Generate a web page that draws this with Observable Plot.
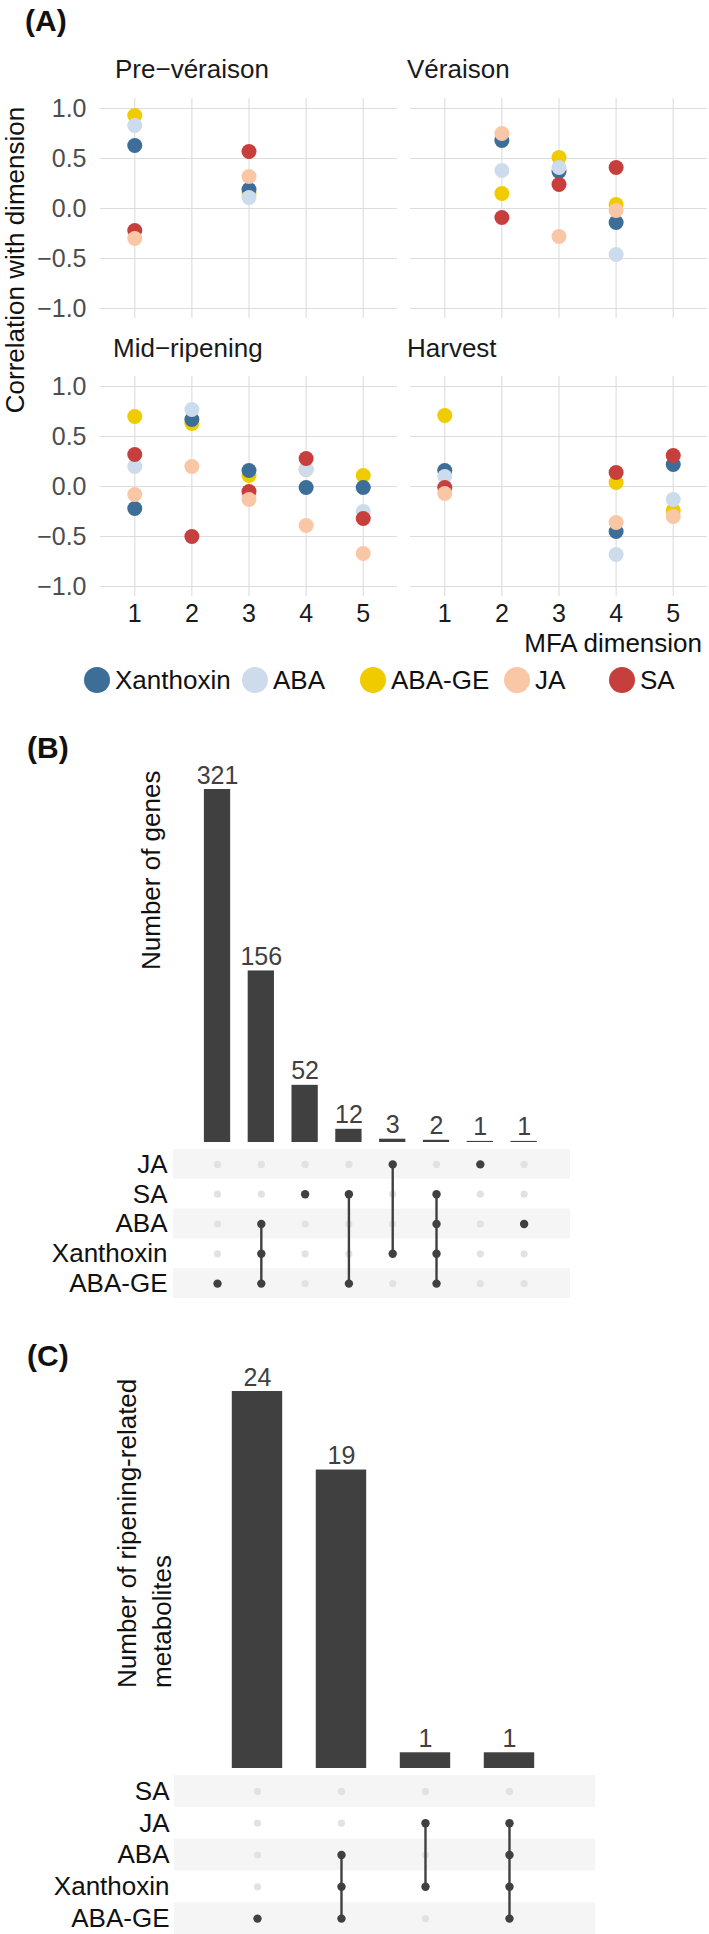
<!DOCTYPE html>
<html>
<head>
<meta charset="utf-8">
<script src="https://cdn.jsdelivr.net/npm/d3@7"></script>
<script src="https://cdn.jsdelivr.net/npm/@observablehq/plot@0.6"></script>
<style>
html, body { margin: 0; padding: 0; background: #fff; }
#page { position: relative; width: 709px; height: 1934px; overflow: hidden; background: #fff;
  font-family: 'Liberation Sans', Arial, Helvetica, sans-serif; }
.abs { position: absolute; }
.abs svg { display: block; }
</style>
</head>
<body>
<div id="page"></div>
<script>
// ---------- Panel A data ----------
const hormones = ["Xanthoxin", "ABA", "ABA-GE", "JA", "SA"];
const hormoneColors = ["#3c6e97", "#ccdcec", "#f0cb00", "#f9c6a6", "#c73f3d"];
const drawOrder = ["ABA-GE", "Xanthoxin", "ABA", "SA", "JA"];
const stageNames = ["Pre\u2212véraison", "Véraison", "Mid\u2212ripening", "Harvest"];
const dims = [1, 2, 3, 4, 5];
const corrTicks = [-1, -0.5, 0, 0.5, 1];
// rows: [MFA dimension, Xanthoxin, ABA, ABA-GE, JA, SA]
const preVeraison = [
  [1, 0.63, 0.83, 0.93, -0.30, -0.22],
  [3, 0.19, 0.11, 0.15, 0.32, 0.57]
];
const veraison = [
  [2, 0.68, 0.38, 0.15, 0.75, -0.09],
  [3, 0.37, 0.41, 0.51, -0.28, 0.24],
  [4, -0.14, -0.46, 0.04, -0.02, 0.41]
];
const midRipening = [
  [1, -0.22, 0.20, 0.70, -0.08, 0.32],
  [2, 0.67, 0.77, 0.63, 0.20, -0.50],
  [3, 0.16, -0.09, 0.11, -0.13, -0.05],
  [4, -0.01, 0.17, 0.17, -0.39, 0.28],
  [5, -0.01, -0.25, 0.11, -0.67, -0.32]
];
const harvest = [
  [1, 0.16, 0.10, 0.71, -0.07, -0.01],
  [4, -0.45, -0.68, 0.04, -0.36, 0.14],
  [5, 0.22, -0.13, -0.24, -0.30, 0.31]
];

// ---------- Panel B data ----------
const geneSets = ["JA", "SA", "ABA", "Xanthoxin", "ABA-GE"];
const geneCounts = [321, 156, 52, 12, 3, 2, 1, 1];
const geneMembers = [
  ["ABA-GE"], ["ABA", "Xanthoxin", "ABA-GE"], ["SA"], ["SA", "ABA-GE"],
  ["JA", "Xanthoxin"], ["SA", "ABA", "Xanthoxin", "ABA-GE"], ["JA"], ["ABA"]
];

// ---------- Panel C data ----------
const metSets = ["SA", "JA", "ABA", "Xanthoxin", "ABA-GE"];
const metCounts = [24, 19, 1, 1];
const metMembers = [
  ["ABA-GE"], ["ABA", "Xanthoxin", "ABA-GE"], ["JA", "Xanthoxin"], ["JA", "ABA", "Xanthoxin", "ABA-GE"]
];

// ---------- drawing ----------
const FONT = "'Liberation Sans', Arial, Helvetica, sans-serif";
const page = d3.select("#page");
const baseStyle = {fontFamily: FONT, background: "transparent", overflow: "visible"};

function mount(chart, left, top) {
  page.append("div").attr("class", "abs")
    .style("left", left + "px").style("top", top + "px")
    .node().appendChild(chart);
}

function corrPanel(rows, left, top, w, h, showY, showX) {
  const data = [];
  for (const name of drawOrder) {
    const k = hormones.indexOf(name) + 1;
    for (const r of rows) data.push({dim: r[0], value: r[k], hormone: name});
  }
  const mL = showY ? 100 : 0, mB = showX ? 50 : 0;
  const marks = [
    Plot.gridY({ticks: corrTicks, stroke: "#dcdcdc", strokeOpacity: 1, strokeWidth: 1.1}),
    Plot.gridX({ticks: dims, stroke: "#dcdcdc", strokeOpacity: 1, strokeWidth: 1.1}),
    Plot.dot(data, {x: "dim", y: "value", fill: "hormone", r: 7.5})
  ];
  if (showY) marks.push(Plot.axisY({ticks: corrTicks, tickFormat: d3.format(".1f"), tickSize: 0,
    tickPadding: 14, fontSize: 25, color: "#4d4d4d", label: null}));
  if (showX) marks.push(Plot.axisX({ticks: dims, tickFormat: d3.format("d"), tickSize: 0,
    tickPadding: 8, fontSize: 25, color: "#1a1a1a", label: null}));
  const xOpt = {domain: [0.4, 5.6]};
  if (!showX) xOpt.axis = null;
  const yOpt = {domain: [-1.1, 1.1]};
  if (!showY) yOpt.axis = null;
  const chart = Plot.plot({
    width: mL + w, height: h + mB,
    marginLeft: mL, marginRight: 0, marginTop: 0, marginBottom: mB,
    style: baseStyle,
    x: xOpt, y: yOpt,
    color: {domain: hormones, range: hormoneColors},
    marks
  });
  mount(chart, left - mL, top);
}

corrPanel(preVeraison, 100, 98, 297, 220, true, false);
corrPanel(veraison, 410, 98, 297, 220, false, false);
corrPanel(midRipening, 100, 376, 297, 220, true, true);
corrPanel(harvest, 410, 376, 297, 220, false, true);

function upset(sets, counts, members, o) {
  const cols = counts.map((c, i) => ({i, count: c, rows: members[i].map(m => sets.indexOf(m))}));
  const hw = 0.3;
  const bars = Plot.plot({
    width: o.frameRight, height: o.barsH,
    marginLeft: o.frameLeft, marginRight: 0, marginTop: o.barsMarginTop, marginBottom: 0,
    style: baseStyle,
    x: {domain: o.xDomain, axis: null},
    y: {domain: [0, d3.max(counts)], axis: null},
    marks: [
      Plot.rectY(cols, {x1: d => d.i - hw, x2: d => d.i + hw, y: "count", fill: "#404040"}),
      Plot.text(cols, {x: "i", y: "count", text: d => String(d.count), dy: -6, lineAnchor: "bottom",
        fontSize: 25, fill: "#404040"})
    ]
  });
  mount(bars, 0, o.barsTop);

  const cells = [];
  for (const c of cols) for (let r = 0; r < sets.length; r++) cells.push({i: c.i, r, on: c.rows.includes(r)});
  const matrix = Plot.plot({
    width: o.frameRight, height: o.matrixH,
    marginLeft: o.frameLeft, marginRight: 0, marginTop: 0, marginBottom: 0,
    style: baseStyle,
    x: {domain: o.xDomain, axis: null},
    y: {domain: [sets.length - 0.5, -0.5]},
    marks: [
      Plot.rect(d3.range(0, sets.length, 2), {x1: () => o.xDomain[0], x2: () => o.xDomain[1],
        y1: r => r - 0.5, y2: r => r + 0.5, fill: "#f5f5f5"}),
      Plot.dot(cells.filter(d => !d.on), {x: "i", y: "r", r: 3.6, fill: "#e2e2e2"}),
      Plot.ruleX(cols.filter(c => c.rows.length > 1), {x: "i", y1: c => d3.min(c.rows), y2: c => d3.max(c.rows),
        stroke: "#404040", strokeWidth: 2.4}),
      Plot.dot(cells.filter(d => d.on), {x: "i", y: "r", r: 4.2, fill: "#404040"}),
      Plot.axisY({ticks: d3.range(sets.length), tickFormat: r => sets[r], tickSize: 0,
        tickPadding: o.labelPad, fontSize: 26, color: "#111", label: null})
    ]
  });
  mount(matrix, 0, o.matrixTop);
}

upset(geneSets, geneCounts, geneMembers, {
  frameLeft: 173, frameRight: 570, xDomain: [-1.005, 8.059],
  barsTop: 760, barsH: 382, barsMarginTop: 29,
  matrixTop: 1149, matrixH: 149, labelPad: 6
});
upset(metSets, metCounts, metMembers, {
  frameLeft: 174, frameRight: 595, xDomain: [-0.988, 4.024],
  barsTop: 1360, barsH: 408, barsMarginTop: 31,
  matrixTop: 1775, matrixH: 159, labelPad: 5
});

// ---------- annotations (titles, legend) ----------
const ann = page.append("svg").attr("width", 709).attr("height", 1934)
  .style("position", "absolute").style("left", "0").style("top", "0")
  .style("font-family", FONT).style("pointer-events", "none");

function label(str, x, y, opt = {}) {
  const t = ann.append("text").text(str)
    .attr("font-size", opt.size || 26)
    .attr("font-weight", opt.weight || "normal")
    .attr("text-anchor", opt.anchor || "start")
    .attr("fill", opt.fill || "#1a1a1a");
  if (opt.rotate) t.attr("transform", `translate(${x},${y}) rotate(-90)`);
  else t.attr("x", x).attr("y", y);
  return t;
}

label("(A)", 25, 31, {size: 30, weight: "bold", fill: "#111"});
label(stageNames[0], 115, 78);
label(stageNames[1], 407, 78);
label(stageNames[2], 113, 357);
label(stageNames[3], 407, 357);
label("Correlation with dimension", 24, 260, {rotate: true, anchor: "middle", fill: "#111"});
label("MFA dimension", 702, 652, {anchor: "end", fill: "#111"});

const legendCenters = [97, 255, 373, 517, 622];
hormones.forEach((h, i) => {
  ann.append("circle").attr("cx", legendCenters[i]).attr("cy", 680).attr("r", 13).attr("fill", hormoneColors[i]);
  label(h, legendCenters[i] + 18, 689, {fill: "#111"});
});

label("(B)", 27, 758, {size: 30, weight: "bold", fill: "#111"});
label("Number of genes", 160, 970, {rotate: true, fill: "#111"});

label("(C)", 27, 1366, {size: 30, weight: "bold", fill: "#111"});
label("Number of ripening-related", 136, 1688, {rotate: true, fill: "#111"});
label("metabolites", 171, 1688, {rotate: true, fill: "#111"});
</script>
</body>
</html>
